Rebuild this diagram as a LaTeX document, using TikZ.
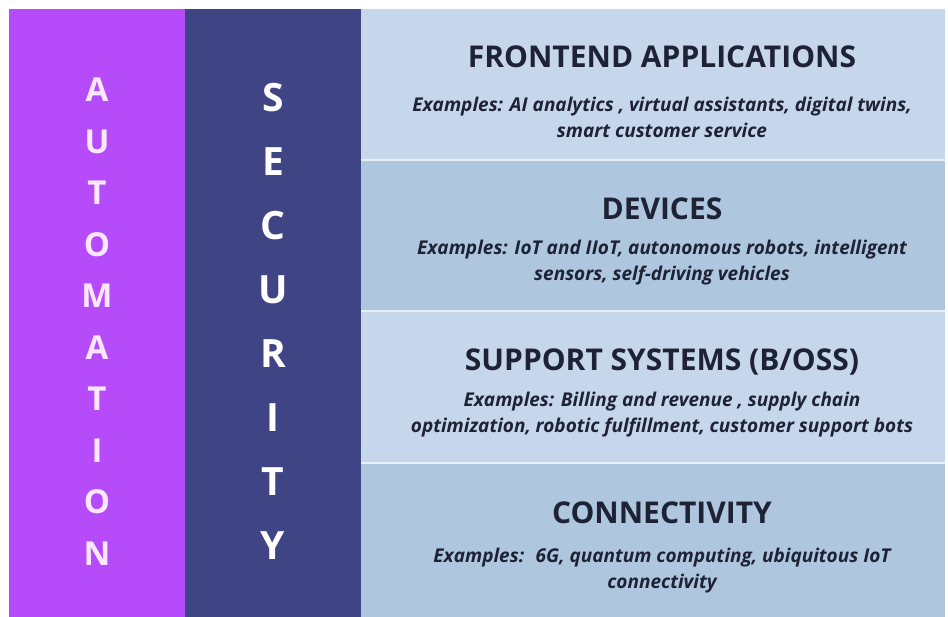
\documentclass[tikz,border=0pt]{standalone}
\usepackage{fontspec}
\setmainfont{Carlito}
\newfontfamily\headfont{Open Sans}
\usepackage{tikz}

\definecolor{autopurple}{HTML}{B64CF9}
\definecolor{secblue}{HTML}{3F4484}
\definecolor{rowlight}{HTML}{C7D7EB}
\definecolor{rowdark}{HTML}{AFC6DF}
\definecolor{inkdark}{HTML}{1E2235}
\definecolor{letterpink}{HTML}{FDE8FF}

\tikzset{
  colletter/.style={inner sep=0pt, font=\headfont\bfseries},
  heading/.style={anchor=base, inner sep=0pt, text=inkdark, font=\headfont\bfseries\fontsize{30}{34}\selectfont},
  examples/.style={align=center, inner sep=0pt, text=inkdark, font=\headfont\bfseries\itshape\fontsize{19}{26}\selectfont}
}

\begin{document}
\begin{tikzpicture}[x=1pt, y=-1pt]
	\useasboundingbox (0,0) rectangle (948,617);
	\fill[white] (0,0) rectangle (948,617);
	% side columns
	\fill[autopurple] (9,9) rectangle (185,617);
	\fill[secblue] (185,9) rectangle (361,617);
	% layer rows
	\fill[rowlight] (361,9) rectangle (945,160);
	\fill[rowdark] (361,160) rectangle (945,311);
	\fill[rowlight] (361,311) rectangle (945,463);
	\fill[rowdark] (361,463) rectangle (945,617);
	\foreach \y in {160,311,463} {\draw[white!60!rowlight, line width=1.2pt] (361,\y) -- (945,\y);}
	% vertical words
	\foreach \l [count=\i from 0] in {A,U,T,O,M,A,T,I,O,N}
		\node[colletter, text=letterpink, font=\headfont\bfseries\fontsize{33}{33}\selectfont] (auto\i) at (97,90+51.5*\i) {\l};
	\foreach \l [count=\i from 0] in {S,E,C,U,R,I,T,Y}
		\node[colletter, text=white, font=\headfont\bfseries\fontsize{39}{39}\selectfont] (sec\i) at (273,98+63.9*\i) {\l};
	% row texts
	\node[heading] (frontend) at (662,68) {FRONTEND APPLICATIONS};
	\node[examples] (frontendex) at (662,117) {Examples: AI analytics , virtual assistants, digital twins,\\ smart customer service};
	\node[heading] (devices) at (662,220) {DEVICES};
	\node[examples] (devicesex) at (662,263) {Examples: IoT and IIoT, autonomous robots, intelligent\\ sensors, self-driving vehicles};
	\node[heading] (support) at (662,371) {SUPPORT SYSTEMS (B/OSS)};
	\node[examples] (supportex) at (662,415) {Examples: Billing and revenue , supply chain\\ optimization, robotic fulfillment, customer support bots};
	\node[heading] (connect) at (662,523) {CONNECTIVITY};
	\node[examples] (connectex) at (662,571) {Examples:~ 6G, quantum computing, ubiquitous IoT\\ connectivity};
\end{tikzpicture}
\end{document}
